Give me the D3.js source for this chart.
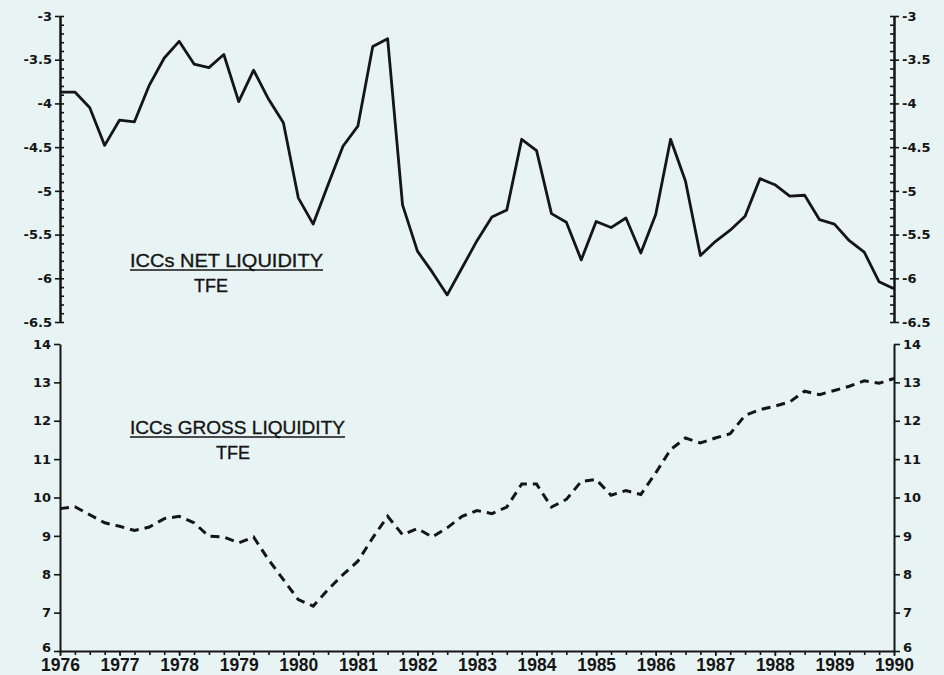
<!DOCTYPE html>
<html>
<head>
<meta charset="utf-8">
<script src="https://cdn.jsdelivr.net/npm/d3@7"></script>
<style>
  html, body { margin: 0; padding: 0; background: #e8f3f3; }
  svg { display: block; }
  .tick text { font-weight: bold; fill: #151515; }
  .domain, .tick line { stroke: #151515; }
</style>
</head>
<body>
<svg id="chart" width="944" height="675"></svg>
<script>
// Quarterly observations, 1976 Q1 through 1990 Q1
const startYear = 1976;
const endYear = 1990;

// ICCs net liquidity / TFE (upper panel)
const netLiquidity = [
  -3.87, -3.87, -4.05, -4.48, -4.19, -4.21, -3.79, -3.48,
  -3.29, -3.55, -3.59, -3.44, -3.98, -3.62, -3.95, -4.22,
  -5.08, -5.38, -4.93, -4.49, -4.26, -3.35, -3.26, -5.16,
  -5.69, -5.93, -6.19, -5.88, -5.57, -5.30, -5.22, -4.41,
  -4.54, -5.26, -5.36, -5.79, -5.35, -5.42, -5.31, -5.71,
  -5.27, -4.41, -4.89, -5.74, -5.58, -5.45, -5.29, -4.86,
  -4.93, -5.06, -5.05, -5.33, -5.38, -5.57, -5.70, -6.04,
  -6.12
];

// ICCs gross liquidity / TFE (lower panel)
const grossLiquidity = [
  9.71, 9.76, 9.55, 9.34, 9.25, 9.14, 9.23, 9.45,
  9.51, 9.34, 8.99, 8.97, 8.82, 8.97, 8.38, 7.86,
  7.34, 7.17, 7.60, 7.99, 8.34, 8.95, 9.51, 9.03,
  9.19, 8.97, 9.21, 9.51, 9.66, 9.58, 9.75, 10.35,
  10.35, 9.75, 9.95, 10.42, 10.47, 10.06, 10.18, 10.08,
  10.64, 11.25, 11.55, 11.42, 11.55, 11.66, 12.14, 12.29,
  12.38, 12.49, 12.77, 12.68, 12.79, 12.90, 13.04, 12.98,
  13.10
];

// Axis tick values and labels
const netTicks = [-3, -3.5, -4, -4.5, -5, -5.5, -6, -6.5];
const netTickLabels = ["-3", "-3.5", "-4", "-4.5", "-5", "-5.5", "-6", "-6.5"];
const grossTicks = [14, 13, 12, 11, 10, 9, 8, 7, 6];
const grossTickLabels = ["14", "13", "12", "11", "10", "9", "8", "7", "6"];
const yearLabels = ["1976","1977","1978","1979","1980","1981","1982","1983",
                    "1984","1985","1986","1987","1988","1989","1990"];

const quarters = netLiquidity.map((_, i) => startYear + i / 4);

const svg = d3.select("#chart");
const ink = "#151515";
const tickFont = "DejaVu Sans, sans-serif";
const yearFont = "Liberation Sans, Arial, sans-serif";

const left = 60, right = 894;
const x = d3.scaleLinear().domain([startYear, endYear]).range([left, right]);
const yNet = d3.scaleLinear().domain([-3, -6.5]).range([16, 322]);
const yGross = d3.scaleLinear().domain([14, 6]).range([344, 651]);

const minorNet = d3.range(0, 36).map(k => +(-3 - k * 0.1).toFixed(1));
const quarterTicks = d3.range(0, (endYear - startYear) * 4 + 1).map(k => startYear + k / 4);

function styleAxis(g, fontSize, family) {
  g.select(".domain").attr("stroke-width", 2);
  g.selectAll(".tick line").attr("stroke-width", 1.6);
  g.selectAll(".tick text").attr("font-size", fontSize).attr("font-family", family || tickFont);
}

// ---------- upper panel axes ----------
const netLabel = d => netTickLabels[netTicks.indexOf(d)];

svg.append("g").attr("transform", `translate(${left},0)`)
  .call(d3.axisRight(yNet).tickValues(minorNet).tickSize(4).tickSizeOuter(0).tickFormat(""))
  .call(g => styleAxis(g, 13));
svg.append("g").attr("transform", `translate(${left},0)`)
  .call(d3.axisLeft(yNet).tickValues(netTicks).tickSize(5).tickSizeOuter(0).tickPadding(3).tickFormat(netLabel))
  .call(g => styleAxis(g, 13));

svg.append("g").attr("transform", `translate(${right},0)`)
  .call(d3.axisLeft(yNet).tickValues(minorNet).tickSize(4).tickSizeOuter(0).tickFormat(""))
  .call(g => styleAxis(g, 13));
svg.append("g").attr("transform", `translate(${right},0)`)
  .call(d3.axisRight(yNet).tickValues(netTicks).tickSize(5).tickSizeOuter(0).tickPadding(3).tickFormat(netLabel))
  .call(g => styleAxis(g, 13));

// ---------- lower panel axes ----------
const grossLabel = d => grossTickLabels[grossTicks.indexOf(d)];
// the "6" labels sit just above the time axis so they clear the year labels
const liftBottom = g => g.selectAll(".tick text").filter(d => d === 6).attr("dy", "0.05em");

svg.append("g").attr("transform", `translate(${left},0)`)
  .call(d3.axisLeft(yGross).tickValues(grossTicks).tickSize(6).tickSizeOuter(0).tickPadding(3).tickFormat(grossLabel))
  .call(g => styleAxis(g, 13))
  .call(liftBottom);
svg.append("g").attr("transform", `translate(${right},0)`)
  .call(d3.axisRight(yGross).tickValues(grossTicks).tickSize(6).tickSizeOuter(0).tickPadding(3).tickFormat(grossLabel))
  .call(g => styleAxis(g, 13))
  .call(liftBottom);

svg.append("g").attr("transform", `translate(0,${yGross(6)})`)
  .call(d3.axisBottom(x).tickValues(quarterTicks).tickSize(4).tickSizeOuter(0).tickFormat(""))
  .call(g => styleAxis(g, 14));
svg.append("g").attr("transform", `translate(0,${yGross(6)})`)
  .call(d3.axisBottom(x).tickValues(yearLabels.map(Number)).tickSize(5).tickSizeOuter(0).tickPadding(4)
        .tickFormat((d, i) => yearLabels[i]))
  .call(g => styleAxis(g, 17.5, yearFont))
  .call(g => g.selectAll(".tick text").attr("dy", "0.62em"))
  .call(g => g.select(".domain").remove());

// ---------- series ----------
svg.append("path")
  .datum(netLiquidity)
  .attr("fill", "none")
  .attr("stroke", ink)
  .attr("stroke-width", 2.8)
  .attr("stroke-linejoin", "round")
  .attr("d", d3.line().x((d, i) => x(quarters[i])).y(d => yNet(d)));

svg.append("path")
  .datum(grossLiquidity)
  .attr("fill", "none")
  .attr("stroke", ink)
  .attr("stroke-width", 3)
  .attr("stroke-dasharray", "9,6")
  .attr("d", d3.line().x((d, i) => x(quarters[i])).y(d => yGross(d)));

// ---------- panel captions ----------
function caption(lines, xStart, yBase, width, tfeX) {
  svg.append("text")
    .attr("x", xStart).attr("y", yBase)
    .attr("font-family", yearFont)
    .attr("font-size", 18)
    .attr("fill", ink)
    .attr("stroke", ink).attr("stroke-width", 0.35)
    .attr("textLength", width)
    .attr("lengthAdjust", "spacingAndGlyphs")
    .text(lines[0]);
  svg.append("line")
    .attr("x1", xStart).attr("x2", xStart + width)
    .attr("y1", yBase + 3).attr("y2", yBase + 3)
    .attr("stroke", ink).attr("stroke-width", 1.7);
  svg.append("text")
    .attr("x", tfeX).attr("y", yBase + 25)
    .attr("font-family", yearFont)
    .attr("font-size", 18)
    .attr("fill", ink)
    .attr("stroke", ink).attr("stroke-width", 0.35)
    .text(lines[1]);
}

caption(["ICCs NET LIQUIDITY", "TFE"], 130, 267, 193, 194);
caption(["ICCs GROSS LIQUIDITY", "TFE"], 130, 434, 215, 216);
</script>
</body>
</html>
